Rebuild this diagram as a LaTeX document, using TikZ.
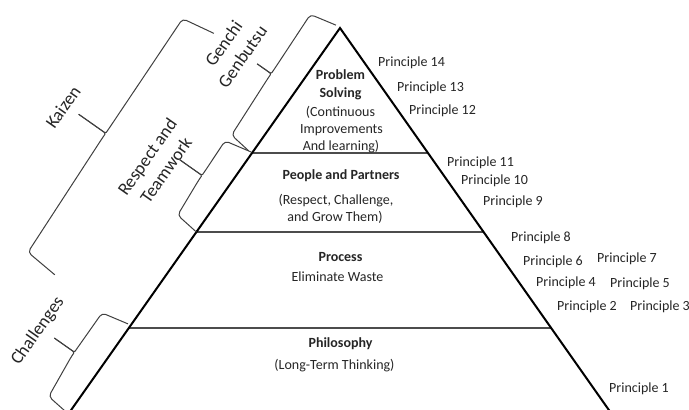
\documentclass[tikz,border=0pt]{standalone}
\usepackage{fontspec}
\setmainfont{Carlito}
% one side brace drawn in the frame of the pyramid's left edge:
% u runs down the edge from the apex, v points outward from it
% #1 u top, #2 v top end, #3 v top corner, #4 u of the tip, #5 v of the body at the tip,
% #6 v of the tip, #7 u bottom, #8 v bottom end, #9 v bottom corner
\newcommand\pyramidbrace[9]{%
  \draw[bracket] (#1,#2) -- (#1+6,#3) -- (#4-5,#5)
    .. controls (#4-1.5,#5) and (#4,#5+1.5) .. (#4,#5+5) -- (#4,#6);
  \draw[bracket] (#4,#6) -- (#4,#5+5)
    .. controls (#4,#5+1.5) and (#4+1.5,#5) .. (#4+5,#5) -- (#7-3,#9) -- (#7,#8);
}
\begin{document}
\begin{tikzpicture}[x=1pt,y=-1pt,
  edge/.style={line width=2pt,black},
  tier/.style={line width=1.8pt,black!70},
  bracket/.style={line width=1pt,black!75,rounded corners=4pt,line join=round},
  head/.style={font=\fontsize{14}{18}\selectfont\bfseries,text=black!85,inner sep=0pt,anchor=base},
  body/.style={font=\fontsize{14}{18}\selectfont,text=black!85,inner sep=0pt,anchor=base},
  principle/.style={font=\fontsize{14}{18}\selectfont,text=black!85,inner sep=0pt,anchor=base west},
  pillar/.style={font=\fontsize{18}{23}\selectfont,text=black!85,inner sep=0pt,align=center,rotate=54.85},
]
\clip (0,0) rectangle (689,410);
\fill[white] (0,0) rectangle (689,410);

% pyramid outline and tiers
\coordinate (apex) at (340,28);
\coordinate (bl) at (67.6,415);
\coordinate (br) at (612.4,415);
\coordinate (l1) at (252,153);   \coordinate (r1) at (428,153);
\coordinate (l2) at (196.4,232); \coordinate (r2) at (483.6,232);
\coordinate (l3) at (128.8,328); \coordinate (r3) at (551.2,328);
\draw[tier] (l1) -- (r1);
\draw[tier] (l2) -- (r2);
\draw[tier] (l3) -- (r3);
\draw[edge] (bl) -- (apex) -- (br);

% tier texts
\node[head] (ps1) at (340.5,79) {Problem};
\node[head] (ps2) at (340.5,97) {Solving};
\node[body] (ps3) at (340.5,116) {(Continuous};
\node[body] (ps4) at (341.5,133) {Improvements};
\node[body] (ps5) at (341,150.5) {And learning)};

\node[head] (pp1) at (341,179) {People and Partners};
\node[body] (pp2) at (336,204) {(Respect, Challenge,};
\node[body] (pp3) at (335,221) {and Grow Them)};

\node[head] (pr1) at (340.5,261) {Process};
\node[body] (pr2) at (337.5,281) {Eliminate Waste};

\node[head] (ph1) at (340.5,347) {Philosophy};
\node[body] (ph2) at (334.5,369) {(Long-Term Thinking)};

% principles along the right edge
\node[principle] (p14) at (378,66.5) {Principle 14};
\node[principle] (p13) at (397,91.5) {Principle 13};
\node[principle] (p12) at (409,114.5) {Principle 12};
\node[principle] (p11) at (447,166.5) {Principle 11};
\node[principle] (p10) at (461,184.5) {Principle 10};
\node[principle] (p9)  at (483,205.5) {Principle 9};
\node[principle] (p8)  at (511,241.5) {Principle 8};
\node[principle] (p6)  at (523,265.5) {Principle 6};
\node[principle] (p7)  at (597,262.5) {Principle 7};
\node[principle] (p4)  at (536,286.5) {Principle 4};
\node[principle] (p5)  at (610,287.5) {Principle 5};
\node[principle] (p2)  at (557,310.5) {Principle 2};
\node[principle] (p3)  at (630,310.5) {Principle 3};
\node[principle] (p1)  at (609,392.5) {Principle 1};

% braces along the left edge
\begin{scope}[shift={(apex)},rotate=234.846]
  \pyramidbrace{0}{5}{32}{77}{30}{47}{153}{4}{27}
  \pyramidbrace{152.5}{1}{29}{200}{28}{55}{249.5}{0}{25}
  \pyramidbrace{77}{100}{134}{221}{131}{164}{366}{91}{126}
  \pyramidbrace{364}{3}{30.5}{418}{30.5}{55}{472}{0}{26}
\end{scope}

% brace labels
\node[pillar] (genchi) at (233,50) {Genchi\\Genbutsu};
\node[pillar] (respect) at (156.5,163.5) {Respect and\\Teamwork};
\node[pillar] (kaizen) at (63,107) {Kaizen};
\node[pillar] (challenges) at (38,331) {Challenges};
\end{tikzpicture}
\end{document}
